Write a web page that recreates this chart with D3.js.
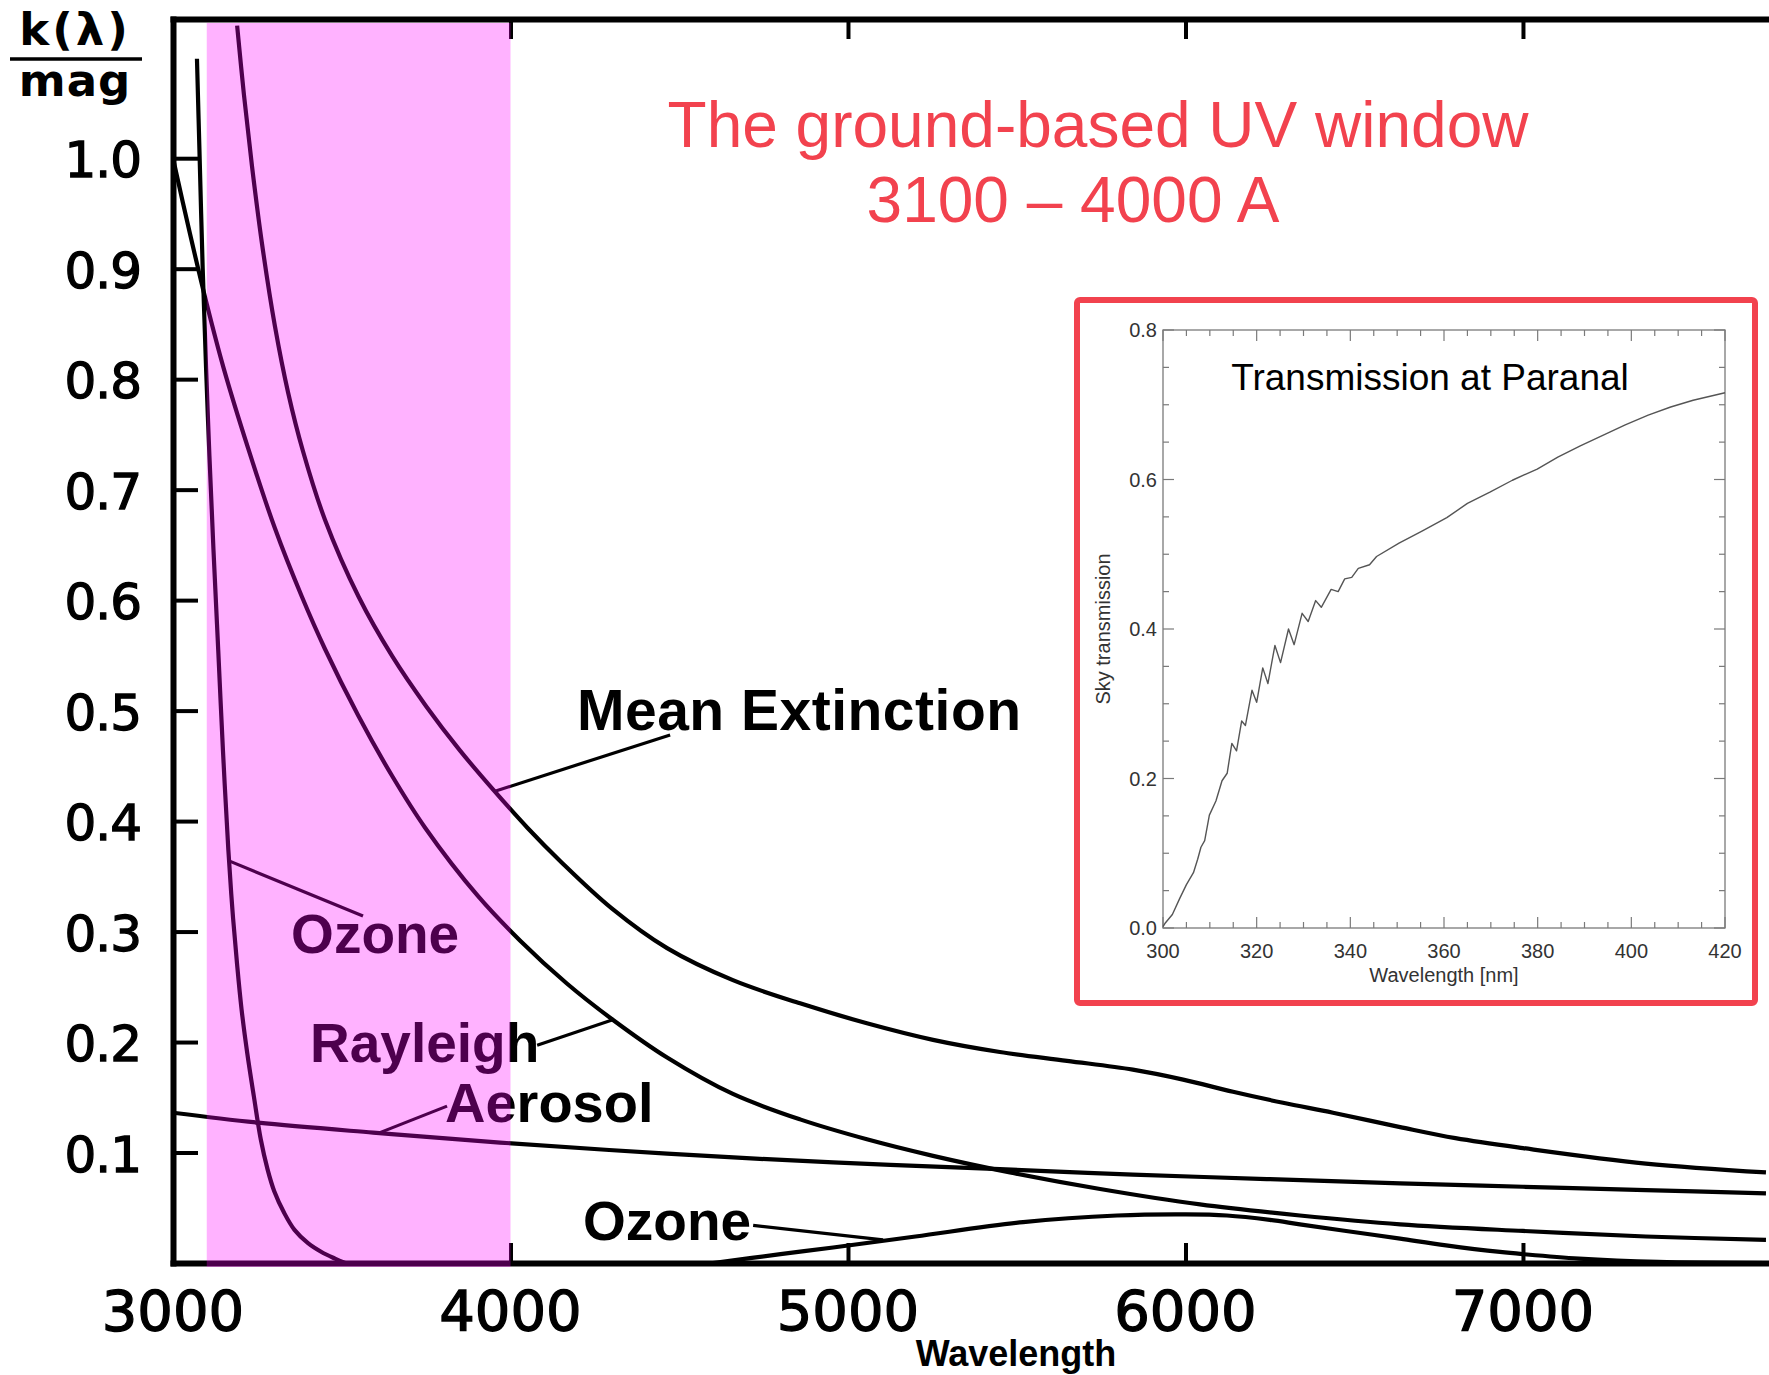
<!DOCTYPE html>
<html>
<head>
<meta charset="utf-8">
<script src="https://cdn.jsdelivr.net/npm/d3@7"></script>
<style>
  html, body { margin: 0; padding: 0; background: #ffffff; }
  svg { display: block; }
</style>
</head>
<body>
<svg id="chart" width="1769" height="1375"></svg>
<script>
// ---------- Atmospheric extinction components (wavelength in Å, k in mag/airmass) ----------
const meanExtWl = [3190, 3210, 3234, 3264, 3302, 3341, 3385, 3450, 3550, 3650, 3750, 3850, 3950, 4050, 4150, 4300, 4464, 4659, 4858, 5056, 5252, 5450, 5649, 5844, 5993, 6141, 6289, 6437, 6636, 6800, 7000, 7364, 7720];
const meanExtK  = [1.120, 1.058, 0.993, 0.922, 0.848, 0.788, 0.735, 0.673, 0.603, 0.549, 0.504, 0.464, 0.428, 0.394, 0.363, 0.321, 0.285, 0.256, 0.235, 0.217, 0.202, 0.191, 0.183, 0.175, 0.166, 0.155, 0.145, 0.136, 0.123, 0.113, 0.104, 0.090, 0.082];

const rayleighWl = [3000, 3050, 3100, 3150, 3222, 3302, 3382, 3450, 3548, 3649, 3747, 3904, 4028, 4167, 4304, 4464, 4659, 4858, 5056, 5252, 5480, 5747, 6043, 6339, 6636, 7000, 7364, 7720];
const rayleighK  = [1.000, 0.932, 0.868, 0.810, 0.738, 0.665, 0.603, 0.556, 0.496, 0.441, 0.394, 0.332, 0.292, 0.253, 0.220, 0.186, 0.153, 0.130, 0.112, 0.097, 0.082, 0.067, 0.053, 0.043, 0.035, 0.029, 0.024, 0.021];

const aerosolWl = [3000, 3252, 3593, 3969, 4464, 4956, 5450, 5844, 6241, 6636, 7000, 7364, 7720];
const aerosolK  = [0.136, 0.127, 0.118, 0.109, 0.099, 0.091, 0.085, 0.080, 0.076, 0.072, 0.069, 0.066, 0.063];

// Ozone: Hartley–Huggins cut-off in the UV
const ozoneUvWl = [3071, 3079, 3088, 3098, 3108, 3120, 3134, 3148, 3164, 3176, 3190, 3203, 3220, 3240, 3260, 3280, 3300, 3330, 3360, 3400, 3440, 3480, 3510];
const ozoneUvK  = [1.090, 1.000, 0.900, 0.810, 0.730, 0.645, 0.555, 0.464, 0.374, 0.320, 0.270, 0.230, 0.190, 0.150, 0.112, 0.085, 0.065, 0.045, 0.030, 0.018, 0.010, 0.004, 0.000];

// Ozone: Chappuis band in the visible
const ozoneVisWl = [4600, 4800, 4956, 5200, 5519, 5797, 6000, 6123, 6250, 6339, 6476, 6636, 6772, 6932, 7000, 7166, 7400, 7720];
const ozoneVisK  = [0.000, 0.008, 0.014, 0.024, 0.037, 0.043, 0.044, 0.043, 0.039, 0.035, 0.029, 0.022, 0.016, 0.010, 0.008, 0.004, 0.001, 0.000];

// Axis ticks
const wlTicks = [3000, 4000, 5000, 6000, 7000];
const wlInnerTicks = [4000, 5000, 6000, 7000];
const kTicks = [0.1, 0.2, 0.3, 0.4, 0.5, 0.6, 0.7, 0.8, 0.9, 1.0];

// Highlighted ground-based UV window (Å)
const uvWindow = [3100, 4000];
const titleLines = ["The ground-based UV window", "3100 \u2013 4000 A"];

// Curve labels and their leader lines, in data coordinates
const curveLabels = [
  { text: "Mean Extinction", wl: 4197, k: 0.482, size: 57 },
  { text: "Ozone",           wl: 3350, k: 0.281, size: 55 },
  { text: "Rayleigh",        wl: 3406, k: 0.182, size: 55 },
  { text: "Aerosol",         wl: 3806, k: 0.128, size: 56 },
  { text: "Ozone",           wl: 4215, k: 0.021, size: 55 }
];
const leaders = [
  { from: [4473, 0.478], to: [3954, 0.427] },
  { from: [3563, 0.314], to: [3166, 0.364] },
  { from: [4079, 0.197], to: [4301, 0.220] },
  { from: [3812, 0.142], to: [3613, 0.118] },
  { from: [4719, 0.034], to: [5104, 0.021] }
];

// ---------- Inset: sky transmission at Paranal ----------
const transNm = [300, 300.4, 302, 303.6, 305, 306.5, 307.4, 308.1, 308.9, 309.9, 311.3, 312.6, 313.7, 314.7, 315.7, 316.8, 317.6, 319, 320, 321.3, 322.4, 323.9, 325.1, 326.8, 328, 329.7, 331, 332.6, 333.8, 335.9, 337.4, 338.8, 340.3, 341.7, 344.1, 345.6, 350.4, 355.3, 360.6, 365, 369.8, 374.6, 379.9, 384.3, 389.1, 393.9, 398.7, 403.6, 408.4, 413.2, 420];
const transVal = [0.002, 0.006, 0.018, 0.040, 0.058, 0.074, 0.092, 0.108, 0.117, 0.151, 0.170, 0.197, 0.207, 0.247, 0.237, 0.277, 0.271, 0.318, 0.302, 0.348, 0.327, 0.378, 0.355, 0.400, 0.379, 0.421, 0.410, 0.438, 0.429, 0.453, 0.450, 0.467, 0.469, 0.481, 0.486, 0.497, 0.515, 0.531, 0.549, 0.568, 0.583, 0.599, 0.614, 0.630, 0.645, 0.659, 0.673, 0.686, 0.697, 0.706, 0.716];
const insetXTicks = [300, 320, 340, 360, 380, 400, 420];
const insetYTicks = [0.0, 0.2, 0.4, 0.6, 0.8];

// ---------- Drawing ----------
const svg = d3.select("#chart");
const RED = "#f2424e";

const x = d3.scaleLinear().domain([3000, 7729]).range([173, 1769]);
const y = d3.scaleLinear().domain([0, 1.126]).range([1263, 19]);

const plot = svg.append("g");
plot.append("clipPath").attr("id", "plotClip")
  .append("rect")
  .attr("x", x(3000)).attr("y", y(1.126))
  .attr("width", x(7729) - x(3000)).attr("height", y(0) - y(1.126));

// Axes (ticks point into the plot)
const axLeft = plot.append("g").attr("transform", `translate(${x(3000)},0)`)
  .call(d3.axisRight(y).tickValues(kTicks).tickSize(25).tickSizeOuter(0).tickFormat(""));
const axBottom = plot.append("g").attr("transform", `translate(0,${y(0)})`)
  .call(d3.axisTop(x).tickValues(wlInnerTicks).tickSize(20).tickSizeOuter(0).tickFormat(""));
const axTop = plot.append("g").attr("transform", `translate(0,${y(1.126)})`)
  .call(d3.axisBottom(x).tickValues(wlInnerTicks).tickSize(20).tickSizeOuter(0).tickFormat(""));
[axLeft, axBottom, axTop].forEach(a => {
  a.select(".domain").attr("stroke", "#000").attr("stroke-width", 6).attr("stroke-linecap", "square");
  a.selectAll(".tick line").attr("stroke", "#000").attr("stroke-width", 4);
});

// Tick labels
plot.append("g").selectAll("text").data(kTicks).join("text")
  .attr("x", 141).attr("y", d => y(d) + 19)
  .attr("text-anchor", "end")
  .attr("font-family", "DejaVu Sans").attr("font-size", 50)
  .attr("fill", "#000").attr("stroke", "#000").attr("stroke-width", 1.3)
  .attr("letter-spacing", -1)
  .text(d3.format(".1f"));

plot.append("g").selectAll("text").data(wlTicks).join("text")
  .attr("x", d => x(d)).attr("y", 1330)
  .attr("text-anchor", "middle")
  .attr("font-family", "DejaVu Sans").attr("font-size", 56)
  .attr("fill", "#000").attr("stroke", "#000").attr("stroke-width", 1.3)
  .text(d => d);

plot.append("text")
  .attr("x", 1016).attr("y", 1366).attr("text-anchor", "middle")
  .attr("font-family", "Liberation Sans, Arial, sans-serif").attr("font-weight", "bold")
  .attr("font-size", 36).attr("fill", "#000")
  .text("Wavelength");

// k(λ)/mag unit label
const unit = plot.append("g").attr("font-family", "DejaVu Sans").attr("font-weight", "bold")
  .attr("fill", "#000").attr("text-anchor", "middle");
unit.append("text").attr("x", 75).attr("y", 45)
  .attr("font-size", 45).attr("letter-spacing", 3).text("k(\u03bb)");
unit.append("line").attr("x1", 10).attr("x2", 142).attr("y1", 59).attr("y2", 59)
  .attr("stroke", "#000").attr("stroke-width", 3.5);
unit.append("text").attr("x", 75).attr("y", 96)
  .attr("font-size", 45).attr("letter-spacing", 1).text("mag");

// Extinction curves
const pair = (wl, k) => wl.map((w, i) => [w, k[i]]);
const line = d3.line().x(d => x(d[0])).y(d => y(d[1])).curve(d3.curveCatmullRom.alpha(0.5));
const curves = [
  pair(meanExtWl, meanExtK),
  pair(rayleighWl, rayleighK),
  pair(aerosolWl, aerosolK),
  pair(ozoneUvWl, ozoneUvK),
  pair(ozoneVisWl, ozoneVisK)
];
plot.append("g").attr("clip-path", "url(#plotClip)")
  .selectAll("path").data(curves).join("path")
  .attr("d", line)
  .attr("fill", "none").attr("stroke", "#000").attr("stroke-width", 4.2)
  .attr("stroke-linejoin", "round");

// Leader lines and labels
plot.append("g").selectAll("line").data(leaders).join("line")
  .attr("x1", d => x(d.from[0])).attr("y1", d => y(d.from[1]))
  .attr("x2", d => x(d.to[0])).attr("y2", d => y(d.to[1]))
  .attr("stroke", "#000").attr("stroke-width", 3.2);

plot.append("g").selectAll("text").data(curveLabels).join("text")
  .attr("x", d => x(d.wl)).attr("y", d => y(d.k))
  .attr("font-family", "Liberation Sans, Arial, sans-serif").attr("font-weight", "bold")
  .attr("font-size", d => d.size).attr("fill", "#000")
  .attr("letter-spacing", d => d.size > 56 ? 0.5 : 0)
  .text(d => d.text);

// UV window shading, laid over everything beneath it
plot.append("rect")
  .attr("x", x(uvWindow[0])).attr("y", y(1.126) + 4)
  .attr("width", x(uvWindow[1]) - x(uvWindow[0]))
  .attr("height", y(0) - y(1.126))
  .attr("fill", "#ff00ff").attr("fill-opacity", 0.3);

// Title
svg.append("g").selectAll("text").data(titleLines).join("text")
  .attr("x", (d, i) => i === 0 ? 1098 : 1073)
  .attr("y", (d, i) => i === 0 ? 147 : 222)
  .attr("text-anchor", "middle")
  .attr("font-family", "Liberation Sans, Arial, sans-serif")
  .attr("font-size", 64).attr("fill", RED)
  .text(d => d);

// ---------- Inset ----------
const inset = svg.append("g");
inset.append("rect")
  .attr("x", 1077).attr("y", 300).attr("width", 678).attr("height", 703)
  .attr("rx", 3).attr("fill", "#fff").attr("stroke", RED).attr("stroke-width", 6);

const xi = d3.scaleLinear().domain([300, 420]).range([1163, 1725]);
const yi = d3.scaleLinear().domain([0, 0.8]).range([928, 330]);
const AX = "#7a7a7a";

inset.append("rect")
  .attr("x", xi(300)).attr("y", yi(0.8))
  .attr("width", xi(420) - xi(300)).attr("height", yi(0) - yi(0.8))
  .attr("fill", "none").attr("stroke", AX).attr("stroke-width", 1.3);

const xMinor = d3.range(305, 420, 5).filter(v => v % 20 !== 0);
const yMinor = d3.range(0.05, 0.8, 0.05).filter(v => Math.abs(v * 5 - Math.round(v * 5)) > 1e-6);
const tickG = inset.append("g").attr("stroke", AX).attr("stroke-width", 1.2);
const xTickDefs = insetXTicks.map(v => [v, 11]).concat(xMinor.map(v => [v, 6]));
const yTickDefs = insetYTicks.map(v => [v, 11]).concat(yMinor.map(v => [v, 6]));
tickG.selectAll(".xb").data(xTickDefs).join("line").attr("class", "xb")
  .attr("x1", d => xi(d[0])).attr("x2", d => xi(d[0]))
  .attr("y1", yi(0)).attr("y2", d => yi(0) - d[1]);
tickG.selectAll(".xt").data(xTickDefs).join("line").attr("class", "xt")
  .attr("x1", d => xi(d[0])).attr("x2", d => xi(d[0]))
  .attr("y1", yi(0.8)).attr("y2", d => yi(0.8) + d[1]);
tickG.selectAll(".yl").data(yTickDefs).join("line").attr("class", "yl")
  .attr("y1", d => yi(d[0])).attr("y2", d => yi(d[0]))
  .attr("x1", xi(300)).attr("x2", d => xi(300) + d[1]);
tickG.selectAll(".yr").data(yTickDefs).join("line").attr("class", "yr")
  .attr("y1", d => yi(d[0])).attr("y2", d => yi(d[0]))
  .attr("x1", xi(420)).attr("x2", d => xi(420) - d[1]);

const lblFont = "Liberation Sans, Arial, sans-serif";
inset.append("g").selectAll("text").data(insetXTicks).join("text")
  .attr("x", d => xi(d)).attr("y", 958).attr("text-anchor", "middle")
  .attr("font-family", lblFont).attr("font-size", 20).attr("fill", "#333")
  .text(d => d);
inset.append("g").selectAll("text").data(insetYTicks).join("text")
  .attr("x", xi(300) - 6).attr("y", d => yi(d) + 7).attr("text-anchor", "end")
  .attr("font-family", lblFont).attr("font-size", 20).attr("fill", "#333")
  .text(d3.format(".1f"));
inset.append("text")
  .attr("x", (xi(300) + xi(420)) / 2).attr("y", 982).attr("text-anchor", "middle")
  .attr("font-family", lblFont).attr("font-size", 20).attr("fill", "#333")
  .text("Wavelength [nm]");
inset.append("text")
  .attr("transform", `translate(1110,${(yi(0) + yi(0.8)) / 2}) rotate(-90)`)
  .attr("text-anchor", "middle")
  .attr("font-family", lblFont).attr("font-size", 20).attr("fill", "#333")
  .text("Sky transmission");
inset.append("text")
  .attr("x", 1430).attr("y", 390).attr("text-anchor", "middle")
  .attr("font-family", lblFont).attr("font-size", 37).attr("fill", "#000")
  .text("Transmission at Paranal");

inset.append("path")
  .datum(pair(transNm, transVal))
  .attr("d", d3.line().x(d => xi(d[0])).y(d => yi(d[1])))
  .attr("fill", "none").attr("stroke", "#555").attr("stroke-width", 1.4)
  .attr("stroke-linejoin", "round");
</script>
</body>
</html>
